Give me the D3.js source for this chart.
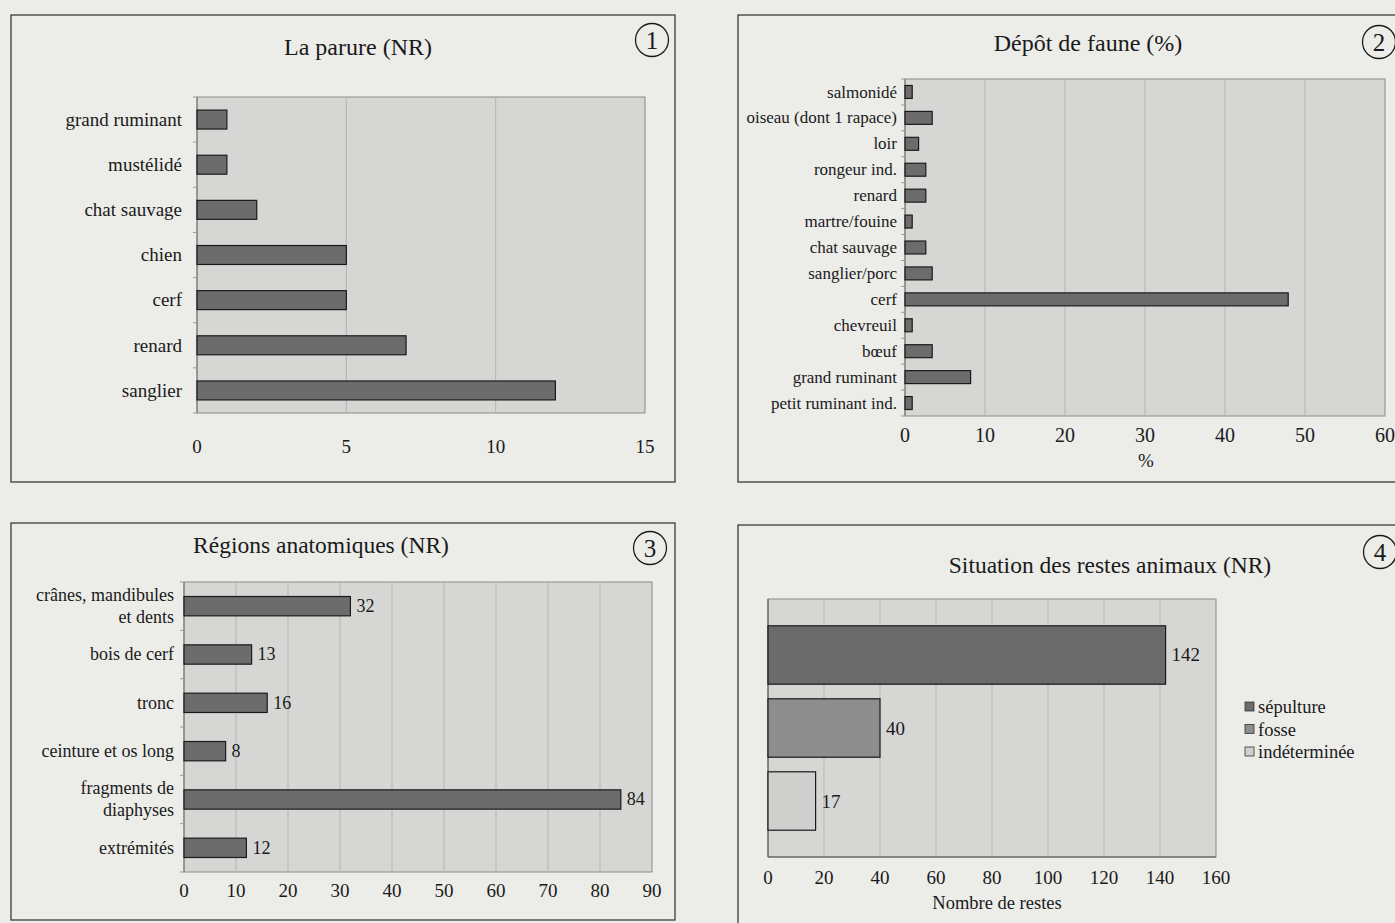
<!DOCTYPE html>
<html>
<head>
<meta charset="utf-8">
<script src="https://cdn.jsdelivr.net/npm/d3@7"></script>
<style>
  html, body { margin: 0; padding: 0; background: #ecece9; }
  svg { display: block; font-family: "Liberation Serif", "DejaVu Serif", serif; }
</style>
</head>
<body>
<svg id="chart" width="1395" height="923"></svg>
<script>
// ---------- DATA ----------
const parureCats = ["grand ruminant", "mustélidé", "chat sauvage", "chien", "cerf", "renard", "sanglier"];
const parureValues = [1, 1, 2, 5, 5, 7, 12];
const parureTicks = [0, 5, 10, 15];

const fauneCats = ["salmonidé", "oiseau (dont 1 rapace)", "loir", "rongeur ind.", "renard", "martre/fouine",
  "chat sauvage", "sanglier/porc", "cerf", "chevreuil", "bœuf", "grand ruminant", "petit ruminant ind."];
const fauneValues = [0.9, 3.4, 1.7, 2.6, 2.6, 0.9, 2.6, 3.4, 47.9, 0.9, 3.4, 8.2, 0.9];
const fauneTicks = [0, 10, 20, 30, 40, 50, 60];

const regionCats = ["crânes, mandibules\net dents", "bois de cerf", "tronc", "ceinture et os long", "fragments de\ndiaphyses", "extrémités"];
const regionValues = [32, 13, 16, 8, 84, 12];
const regionTicks = [0, 10, 20, 30, 40, 50, 60, 70, 80, 90];

const situationSeries = ["sépulture", "fosse", "indéterminée"];
const situationValues = [142, 40, 17];
const situationColors = ["#6b6b6b", "#8e8e8e", "#cfd0cd"];
const situationTicks = [0, 20, 40, 60, 80, 100, 120, 140, 160];

// ---------- DRAW ----------
const svg = d3.select("#chart");
const BAR = "#6c6c6c", PLOTBG = "#d6d7d4", GRID = "#b3b4b1", INK = "#1a1a1a";

function frame(x0, y0, x1, y1) {
  svg.append("rect").attr("x", x0).attr("y", y0).attr("width", x1 - x0).attr("height", y1 - y0)
    .attr("fill", "none").attr("stroke", "#3c3c3c").attr("stroke-width", 1.3);
}
function badge(cx, cy, n) {
  svg.append("circle").attr("cx", cx).attr("cy", cy).attr("r", 16.5)
    .attr("fill", "none").attr("stroke", INK).attr("stroke-width", 1.3);
  svg.append("text").attr("x", cx).attr("y", cy + 8.5).attr("text-anchor", "middle")
    .attr("font-size", 25).attr("fill", INK).text(n);
}
function title(cx, cy, t, size) {
  svg.append("text").attr("x", cx).attr("y", cy + size * 0.33).attr("text-anchor", "middle")
    .attr("font-size", size).attr("fill", INK).text(t);
}

function plotPanel(o) {
  const g = svg.append("g");
  const x = d3.scaleLinear().domain(o.domain).range([o.left, o.right]);
  const y = d3.scaleBand().domain(o.cats).range([o.top, o.bottom])
    .paddingInner(o.pad).paddingOuter(o.pad / 2);
  g.append("rect").attr("x", o.left).attr("y", o.top).attr("width", o.right - o.left)
    .attr("height", o.bottom - o.top).attr("fill", PLOTBG).attr("stroke", "#8a8a88").attr("stroke-width", 1);
  g.selectAll(".grid").data(o.ticks.slice(1, -1)).join("line")
    .attr("x1", d => x(d)).attr("x2", d => x(d)).attr("y1", o.top).attr("y2", o.bottom)
    .attr("stroke", GRID).attr("stroke-width", 1);
  g.append("line").attr("x1", o.left).attr("x2", o.left).attr("y1", o.top).attr("y2", o.bottom)
    .attr("stroke", "#777").attr("stroke-width", 1);
  const step = y.step();
  g.selectAll(".ytick").data(d3.range(o.cats.length + 1)).join("line")
    .attr("x1", o.left - 4).attr("x2", o.left)
    .attr("y1", i => o.top + i * step).attr("y2", i => o.top + i * step)
    .attr("stroke", "#999").attr("stroke-width", 1);
  g.selectAll(".bar").data(o.values).join("rect")
    .attr("x", x(0)).attr("y", (d, i) => y(o.cats[i]))
    .attr("width", d => x(d) - x(0)).attr("height", y.bandwidth())
    .attr("fill", BAR).attr("stroke", INK).attr("stroke-width", 1.2);
  if (o.showValues) {
    g.selectAll(".val").data(o.values).join("text")
      .attr("x", d => x(d) + 6).attr("y", (d, i) => y(o.cats[i]) + y.bandwidth() / 2 + o.labelSize * 0.33)
      .attr("font-size", o.labelSize).attr("fill", INK).text(d => d);
  }
  o.cats.forEach((c, i) => {
    const lines = c.split("\n");
    const cy = y(c) + y.bandwidth() / 2;
    const lh = o.labelSize * 1.22;
    lines.forEach((ln, k) => {
      g.append("text").attr("x", o.left - o.labelGap)
        .attr("y", cy + (k - (lines.length - 1) / 2) * lh + o.labelSize * 0.33)
        .attr("text-anchor", "end").attr("font-size", o.labelSize).attr("fill", INK).text(ln);
    });
  });
  g.selectAll(".xt").data(o.ticks).join("text")
    .attr("x", d => x(d)).attr("y", o.tickY + o.tickSize * 0.33).attr("text-anchor", "middle")
    .attr("font-size", o.tickSize).attr("fill", INK).text(d => d);
  return { x, y };
}

// Panel 1
frame(11, 15, 675, 482);
title(358, 47, "La parure (NR)", 24);
badge(652, 40, "1");
plotPanel({ cats: parureCats, values: parureValues, ticks: parureTicks, domain: [0, 15],
  left: 197, right: 645, top: 97, bottom: 413, pad: 0.58, labelSize: 19, labelGap: 15,
  tickY: 447, tickSize: 19 });

// Panel 2
frame(738, 15, 1402, 482);
title(1088, 43, "Dépôt de faune (%)", 24);
badge(1379, 42, "2");
plotPanel({ cats: fauneCats, values: fauneValues, ticks: fauneTicks, domain: [0, 60],
  left: 905, right: 1385, top: 79, bottom: 416, pad: 0.5, labelSize: 17, labelGap: 8,
  tickY: 435, tickSize: 20 });
svg.append("text").attr("x", 1146).attr("y", 461 + 6).attr("text-anchor", "middle")
  .attr("font-size", 19).attr("fill", INK).text("%");

// Panel 3
frame(11, 523, 675, 920);
title(321, 545, "Régions anatomiques (NR)", 23.5);
badge(650, 548, "3");
plotPanel({ cats: regionCats, values: regionValues, ticks: regionTicks, domain: [0, 90],
  left: 184, right: 652, top: 582, bottom: 872, pad: 0.6, labelSize: 18, labelGap: 10,
  tickY: 891, tickSize: 19, showValues: true });

// Panel 4
frame(738, 525, 1402, 930);
title(1110, 565, "Situation des restes animaux (NR)", 23.5);
badge(1380, 552, "4");
(function () {
  const left = 768, right = 1216, top = 599, bottom = 857;
  const x = d3.scaleLinear().domain([0, 160]).range([left, right]);
  const y = d3.scaleBand().domain(situationSeries).range([top, bottom]).paddingInner(0.2).paddingOuter(0.367);
  svg.append("rect").attr("x", left).attr("y", top).attr("width", right - left).attr("height", bottom - top)
    .attr("fill", PLOTBG).attr("stroke", "#8a8a88").attr("stroke-width", 1);
  svg.selectAll(".g4").data(situationTicks.slice(1, -1)).join("line")
    .attr("x1", d => x(d)).attr("x2", d => x(d)).attr("y1", top).attr("y2", bottom)
    .attr("stroke", GRID).attr("stroke-width", 1);
  svg.append("line").attr("x1", left).attr("x2", left).attr("y1", top).attr("y2", bottom).attr("stroke", "#555");
  svg.append("line").attr("x1", left).attr("x2", right).attr("y1", bottom).attr("y2", bottom).attr("stroke", "#555");
  svg.selectAll(".b4").data(situationValues).join("rect")
    .attr("x", x(0)).attr("y", (d, i) => y(situationSeries[i]))
    .attr("width", d => x(d) - x(0)).attr("height", y.bandwidth())
    .attr("fill", (d, i) => situationColors[i]).attr("stroke", INK).attr("stroke-width", 1.2);
  svg.selectAll(".v4").data(situationValues).join("text")
    .attr("x", d => x(d) + 6).attr("y", (d, i) => y(situationSeries[i]) + y.bandwidth() / 2 + 6.5)
    .attr("font-size", 19).attr("fill", INK).text(d => d);
  svg.selectAll(".t4").data(situationTicks).join("text")
    .attr("x", d => x(d)).attr("y", 877 + 6.5).attr("text-anchor", "middle")
    .attr("font-size", 19).attr("fill", INK).text(d => d);
  svg.append("text").attr("x", 997).attr("y", 903 + 6).attr("text-anchor", "middle")
    .attr("font-size", 18.5).attr("fill", INK).text("Nombre de restes");
  const lg = svg.append("g");
  situationSeries.forEach((s, i) => {
    const ly = 707 + i * 22.5;
    lg.append("rect").attr("x", 1245).attr("y", ly - 5).attr("width", 9).attr("height", 9)
      .attr("fill", situationColors[i]).attr("stroke", "#333").attr("stroke-width", 0.8);
    lg.append("text").attr("x", 1258).attr("y", ly + 6).attr("font-size", 18.5).attr("fill", INK).text(s);
  });
})();
</script>
</body>
</html>
